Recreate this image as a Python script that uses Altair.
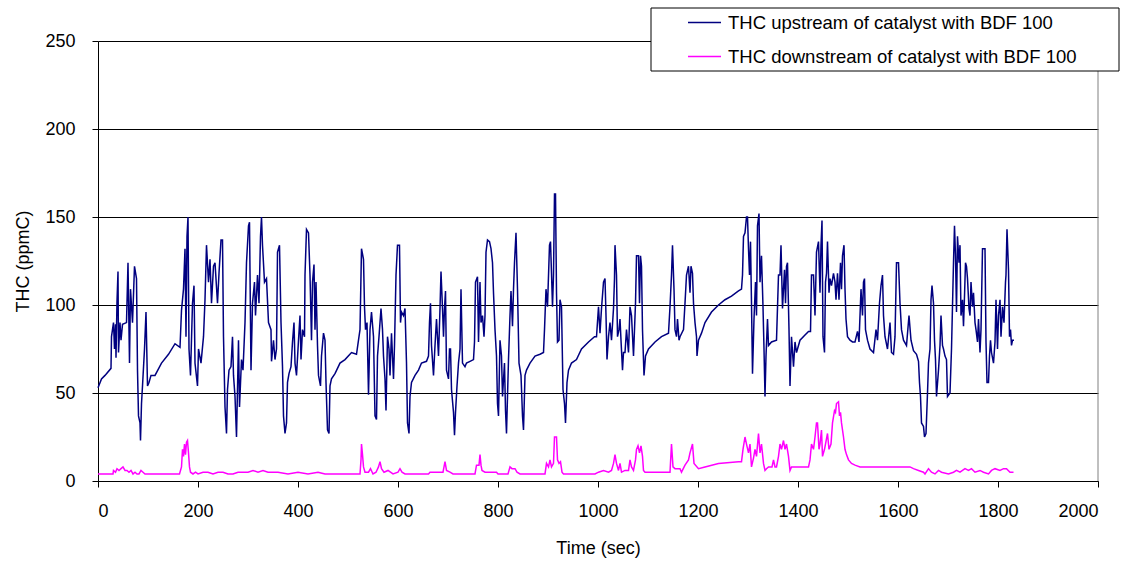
import altair as alt
import pandas as pd

SERIES = ["THC upstream of catalyst with BDF 100", "THC downstream of catalyst with BDF 100"]
COLORS = ["#000080", "#FF00FF"]
X_TICKS = [0, 200, 400, 600, 800, 1000, 1200, 1400, 1600, 1800, 2000]
Y_TICKS = [0, 50, 100, 150, 200, 250]

# Upstream THC (time in s, value in ppmC)
UP = [
    (0, 53), (7, 58), (14, 60), (26, 64), (27, 82), (31, 90), (33, 75), (35, 89), (36, 70), (38, 102),
    (40, 119), (41, 73), (44, 90), (46, 80), (49, 89), (57, 90), (60, 124), (63, 67), (65, 109), (69, 90),
    (73, 122), (77, 115), (79, 63), (81, 37), (84, 33), (85, 23), (87, 44), (89, 54), (93, 75), (96, 96),
    (99, 54), (102, 56), (106, 60), (114, 60), (127, 67), (141, 72), (154, 78), (164, 76), (167, 97), (171, 109),
    (174, 132), (176, 82), (178, 139), (180, 150), (182, 75), (185, 60), (189, 101), (192, 111), (194, 67), (199, 54),
    (201, 75), (206, 67), (211, 82), (214, 103), (217, 134), (221, 113), (224, 126), (227, 101), (231, 122), (234, 124),
    (239, 101), (242, 118), (246, 137), (249, 137), (251, 82), (254, 42), (257, 27), (259, 52), (262, 63), (266, 65),
    (269, 82), (271, 60), (274, 48), (277, 25), (281, 80), (283, 42), (287, 69), (290, 63), (294, 90), (297, 124),
    (301, 145), (303, 147), (306, 63), (309, 101), (313, 113), (315, 94), (319, 117), (322, 101), (325, 139), (327, 150),
    (329, 134), (333, 113), (337, 115), (341, 90),
    (346, 86), (347, 68), (351, 80), (354, 69), (357, 75), (359, 130), (363, 134), (366, 90), (369, 65), (371, 37),
    (374, 27), (377, 33), (379, 56), (382, 61), (386, 65), (389, 79), (392, 90), (394, 67), (397, 60), (401, 80),
    (404, 94), (406, 69), (409, 86), (413, 82), (414, 117), (417, 143), (421, 141), (424, 117), (427, 80), (429, 113),
    (432, 123), (434, 86), (436, 113), (439, 77), (441, 60), (445, 54), (447, 71), (451, 84), (454, 80), (456, 56),
    (459, 29), (462, 27), (464, 54), (467, 58), (474, 61), (484, 67), (494, 69), (507, 73), (517, 72), (521, 80),
    (524, 86), (527, 132), (531, 126), (533, 99), (535, 86), (538, 90), (541, 49), (544, 86), (547, 96), (551, 82),
    (554, 37), (557, 35), (559, 71), (562, 82), (566, 98), (569, 86), (571, 71), (574, 58), (576, 40), (579, 82),
    (582, 75), (584, 60), (587, 84), (591, 58), (593, 77), (596, 117), (599, 134), (603, 134), (605, 90), (607, 96),
    (611, 94), (614, 98), (617, 67), (619, 33), (622, 27), (624, 48), (627, 56), (634, 60), (641, 63), (647, 67),
    (657, 68), (661, 71), (663, 90), (665, 101), (667, 77), (671, 60), (674, 77), (677, 92), (681, 71),
    (684, 98), (686, 119), (689, 98), (691, 82), (693, 98), (695, 108), (697, 63), (701, 58), (703, 75), (705, 75),
    (707, 52), (711, 39), (713, 26), (715, 39), (718, 54), (721, 67), (724, 75), (726, 109), (729, 67), (734, 65),
    (737, 67), (744, 68), (751, 69), (753, 79), (755, 113), (759, 116), (761, 79), (764, 113), (766, 90), (769, 94),
    (772, 82), (774, 94), (776, 130), (779, 137), (783, 136), (786, 132), (789, 124), (791, 107), (794, 86), (797, 71),
    (799, 44), (801, 37), (804, 80), (807, 71), (809, 48), (813, 67), (815, 40), (817, 27), (821, 69), (824, 94),
    (826, 108), (829, 88), (831, 109), (833, 124), (836, 141), (839, 109), (842, 67), (846, 60), (849, 37), (851, 29),
    (854, 60), (857, 63), (864, 67), (874, 71), (884, 72), (891, 73), (893, 86), (896, 109), (899, 99), (903, 134),
    (905, 136), (907, 118), (909, 99), (911, 117), (913, 163), (915, 163), (917, 107), (919, 79), (922, 80), (924, 103),
    (927, 99), (930, 52), (933, 44), (935, 33), (938, 56), (941, 63), (947, 67), (957, 69), (967, 75), (981, 79),
    (993, 82), (997, 82), (1001, 99), (1004, 84), (1007, 98), (1011, 113), (1014, 115), (1016, 94), (1018, 69), (1021, 82),
    (1024, 90), (1027, 80), (1031, 98), (1033, 115), (1034, 134), (1037, 117), (1039, 82), (1042, 86), (1044, 92), (1046, 80),
    (1049, 63), (1051, 73), (1054, 73), (1057, 86), (1061, 73), (1064, 99), (1067, 94), (1071, 71), (1073, 86), (1075, 101),
    (1077, 128), (1081, 128), (1083, 101), (1085, 128), (1087, 122), (1089, 86), (1092, 60), (1095, 71), (1101, 75), (1114, 79),
    (1127, 82), (1141, 84), (1144, 99), (1147, 117), (1149, 134), (1152, 109), (1154, 86), (1157, 82), (1159, 92), (1162, 80),
    (1164, 82), (1171, 86), (1174, 101), (1177, 117), (1181, 122), (1184, 107), (1186, 122), (1189, 118), (1191, 101), (1194, 90),
    (1197, 82), (1198, 71), (1201, 80), (1207, 84), (1214, 90), (1227, 96), (1241, 100), (1254, 103), (1267, 105), (1281, 108),
    (1287, 109), (1289, 117), (1291, 139), (1294, 141), (1297, 150), (1299, 150), (1301, 132), (1303, 117), (1305, 136), (1307, 101),
    (1309, 61), (1312, 92), (1315, 113), (1317, 94), (1319, 145), (1322, 152), (1324, 113), (1327, 128), (1330, 99), (1332, 75),
    (1334, 48), (1336, 71), (1339, 92), (1341, 77), (1347, 79), (1357, 80), (1361, 117),
    (1364, 117), (1366, 134), (1369, 98), (1373, 120), (1375, 101), (1377, 122), (1379, 124), (1382, 86), (1384, 54), (1387, 82),
    (1391, 65), (1394, 79), (1397, 73), (1404, 80), (1414, 83), (1421, 85), (1425, 85), (1427, 117), (1431, 117), (1434, 94),
    (1437, 130), (1441, 136), (1444, 107), (1446, 134), (1448, 148), (1450, 82), (1453, 73), (1455, 113), (1457, 118), (1459, 136),
    (1462, 107), (1464, 115), (1467, 111), (1471, 118), (1474, 113), (1476, 103), (1479, 118), (1482, 103), (1485, 124), (1487, 109),
    (1489, 128), (1492, 134), (1494, 109), (1496, 92), (1499, 82), (1504, 80), (1509, 79), (1514, 79), (1519, 85), (1522, 79),
    (1526, 109), (1529, 94), (1531, 113), (1533, 115), (1535, 86), (1539, 80), (1544, 75), (1551, 73), (1556, 86), (1559, 80),
    (1563, 101), (1566, 111), (1569, 117), (1571, 94), (1574, 82), (1579, 75), (1584, 90), (1587, 73), (1591, 72), (1594, 82),
    (1597, 124), (1601, 124),
    (1604, 101), (1607, 86), (1611, 80), (1617, 77), (1622, 94), (1626, 80), (1631, 74), (1637, 72), (1641, 68), (1643, 56),
    (1645, 48), (1647, 33), (1651, 31), (1653, 25), (1656, 27), (1659, 50), (1661, 67), (1664, 75), (1666, 103), (1668, 111),
    (1671, 101), (1673, 80), (1675, 69), (1677, 48), (1681, 63), (1684, 77), (1686, 94), (1689, 77), (1691, 75), (1694, 71),
    (1697, 69), (1699, 48), (1704, 50), (1707, 75), (1711, 124), (1713, 145), (1715, 128), (1717, 96), (1719, 139), (1722, 124),
    (1724, 134), (1726, 94), (1729, 103), (1731, 88), (1733, 105), (1735, 124), (1737, 122), (1739, 115), (1742, 98), (1744, 94),
    (1746, 113), (1749, 99), (1751, 107), (1754, 90), (1756, 86), (1759, 79), (1761, 92), (1764, 73), (1766, 86), (1769, 132),
    (1774, 132), (1776, 79), (1778, 56), (1781, 56), (1783, 71), (1785, 80), (1787, 73), (1791, 67), (1794, 79), (1796, 103),
    (1799, 75), (1801, 94), (1804, 103), (1806, 82), (1809, 99), (1812, 90), (1815, 113), (1816, 117), (1818, 143), (1821, 120),
    (1823, 82), (1825, 86), (1827, 77), (1829, 80), (1832, 80),
]

# Downstream THC (time in s, value in ppmC)
DOWN = [
    (0, 4), (20, 4), (30, 4), (31, 6), (35, 5), (38, 7), (42, 6), (46, 7), (50, 8), (54, 6),
    (58, 6), (62, 5), (66, 6), (70, 4), (74, 5), (78, 4), (82, 4), (86, 6), (90, 5), (94, 4),
    (101, 4), (163, 4), (167, 8), (169, 18), (171, 14), (173, 21), (175, 15), (177, 22), (179, 23), (181, 16),
    (183, 8), (185, 5), (190, 4), (195, 5), (200, 4), (210, 5), (220, 5), (230, 4), (240, 5), (250, 5),
    (260, 4), (270, 4), (280, 5), (290, 5), (300, 5), (310, 6), (320, 5), (330, 6), (340, 5),
    (360, 5), (380, 4), (400, 5), (420, 4), (440, 5), (454, 4), (500, 4), (524, 4), (526, 12), (527, 21),
    (529, 15), (531, 8), (534, 5), (541, 5), (545, 7), (550, 4), (556, 5), (561, 8), (564, 11), (567, 7),
    (572, 5), (580, 6), (590, 4), (600, 5), (604, 7), (608, 5), (614, 4), (661, 4), (664, 5), (684, 5),
    (690, 5), (692, 8), (694, 11), (697, 6), (704, 5), (710, 4), (754, 4), (757, 9), (762, 9), (764, 15),
    (766, 9), (768, 6), (774, 5), (797, 5), (800, 4), (820, 4), (824, 8), (828, 7), (834, 7), (838, 5),
    (844, 4), (894, 4), (897, 10), (901, 8), (904, 12), (907, 8), (911, 10), (913, 25), (917, 25), (919, 12),
    (922, 10), (925, 11), (928, 5), (931, 4), (994, 4), (1001, 5), (1011, 6), (1021, 5),
    (1027, 6), (1031, 10), (1034, 15), (1037, 10), (1041, 6), (1044, 10), (1047, 5), (1054, 6), (1061, 6), (1064, 12),
    (1067, 8), (1071, 6), (1075, 12), (1077, 18), (1080, 20), (1083, 16), (1086, 20), (1089, 14), (1091, 6), (1094, 5),
    (1144, 5), (1147, 21), (1150, 8), (1154, 7), (1164, 7), (1167, 5), (1174, 9), (1181, 12), (1184, 16), (1189, 21),
    (1192, 10), (1201, 7), (1214, 8), (1241, 10), (1281, 11), (1287, 11), (1290, 18), (1294, 25), (1297, 21), (1301, 16),
    (1304, 21), (1307, 8), (1311, 13), (1314, 18), (1317, 14), (1321, 27), (1324, 16), (1327, 21), (1331, 10), (1334, 6),
    (1337, 7), (1341, 8), (1348, 8), (1351, 12),
    (1354, 8), (1357, 8), (1361, 14), (1364, 21), (1367, 18), (1371, 23), (1374, 18), (1377, 21), (1381, 14), (1384, 6),
    (1387, 8), (1421, 8), (1424, 12), (1427, 21), (1431, 18), (1434, 25), (1437, 33), (1439, 33), (1442, 18), (1444, 21),
    (1447, 29), (1449, 14), (1453, 18), (1455, 21), (1459, 27), (1462, 18), (1466, 21), (1469, 33), (1473, 40), (1475, 39),
    (1477, 44), (1481, 45), (1483, 37), (1485, 39), (1487, 33), (1491, 25), (1494, 18), (1497, 15), (1501, 12), (1507, 10),
    (1514, 9), (1524, 8), (1534, 8), (1601, 8), (1624, 8), (1631, 7), (1641, 6), (1651, 5), (1654, 4), (1661, 7),
    (1667, 5), (1674, 4), (1681, 6), (1687, 5), (1701, 4), (1711, 5), (1717, 6), (1724, 5), (1734, 7), (1741, 6),
    (1747, 7), (1754, 5), (1764, 6), (1771, 5), (1781, 4), (1787, 6), (1794, 7), (1804, 6), (1811, 7), (1817, 7),
    (1824, 5), (1831, 5),
]

rows = []
for name, pts in ((SERIES[0], UP), (SERIES[1], DOWN)):
    for i, (t, v) in enumerate(pts):
        rows.append({"t": t, "v": v, "series": name, "idx": i})
df = pd.DataFrame(rows)

FONT = "Liberation Sans"

x_enc = alt.X("t:Q", scale=alt.Scale(domain=[0, 2000], nice=False),
              axis=alt.Axis(values=X_TICKS, title="Time (sec)", grid=False, format="d",
                            labelPadding=15, titlePadding=19, tickSize=6))
y_enc = alt.Y("v:Q", scale=alt.Scale(domain=[0, 250], nice=False),
              axis=alt.Axis(values=Y_TICKS, title="THC (ppmC)", grid=True, gridColor="#000000",
                            gridWidth=1, labelPadding=17, titlePadding=12, tickSize=6))

lines = alt.Chart(df).mark_line(strokeWidth=1.5, clip=False).encode(
    x=x_enc,
    y=y_enc,
    order="idx:Q",
    color=alt.Color(
        "series:N",
        scale=alt.Scale(domain=SERIES, range=COLORS),
        legend=alt.Legend(
            title=None, orient="none", legendX=589, legendY=-36,
            symbolType="stroke", symbolSize=1089, symbolStrokeWidth=1.5,
            labelFontSize=18.5, labelFont=FONT, labelColor="black", labelLimit=700,
            padding=0, rowPadding=7, labelOffset=6, symbolOffset=0,
        ),
    ),
)

frame_right = alt.Chart(pd.DataFrame({"k": [0]})).mark_rule(color="#808080", strokeWidth=1).encode(
    x=alt.datum(2000), y=alt.datum(0), y2=alt.datum(250)
)

legend_box = alt.Chart(pd.DataFrame({"k": [0]})).mark_rect(
    fill="white", stroke="black", strokeWidth=1
).encode(x=alt.value(553), x2=alt.value(1021), y=alt.value(-33), y2=alt.value(30))

chart = alt.layer(frame_right, lines, legend_box).properties(
    width=1000, height=440,
    autosize=alt.AutoSizeParams(type="none"),
    padding={"left": 98, "top": 41, "right": 30, "bottom": 83},
    background="white",
).configure_view(stroke=None).configure_axis(
    domainColor="black", tickColor="black", labelColor="black", titleColor="black",
    labelFont=FONT, titleFont=FONT, labelFontSize=18, titleFontSize=18,
    titleFontWeight="normal",
)

chart.save("out.html", embed_options={"renderer": "svg", "actions": False})
